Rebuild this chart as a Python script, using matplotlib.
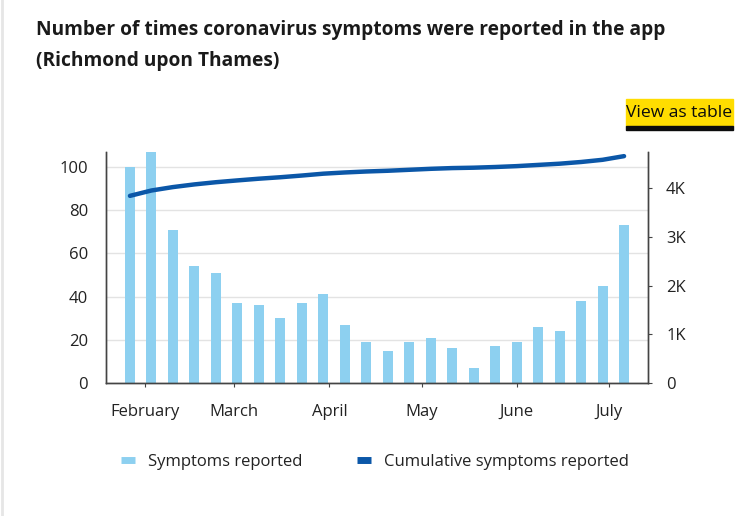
import matplotlib
matplotlib.use("Agg")
import matplotlib.pyplot as plt
import matplotlib.dates as mdates
from matplotlib.lines import Line2D
from matplotlib.patches import Rectangle
from matplotlib.ticker import FuncFormatter
import datetime as dt

plt.rcParams['font.family'] = ['Open Sans', 'DejaVu Sans']

# Weekly data, first week starting 27 Jan 2020
week_start = dt.date(2020, 1, 27)
weeks = [week_start + dt.timedelta(days=7 * i) for i in range(24)]
symptoms = [100, 107, 71, 54, 51, 37, 36, 30, 37, 41, 27, 19,
            15, 19, 21, 16, 7, 17, 19, 26, 24, 38, 45, 73]
cumulative = [3840, 3950, 4020, 4075, 4120, 4157, 4192, 4222, 4257, 4295, 4320, 4340,
              4355, 4375, 4395, 4410, 4418, 4432, 4450, 4475, 4500, 4535, 4580, 4655]
month_ticks = [dt.date(2020, m, 1) for m in range(2, 8)]
month_labels = ["February", "March", "April", "May", "June", "July"]

bar_col = "#8dd0f0"
line_col = "#0b57a8"
txt_col = "#222222"

fig = plt.figure(figsize=(7.5, 5.16), dpi=100)
ax = fig.add_axes([106 / 750, 1 - 383 / 516, 542 / 750, 231 / 516])
ax2 = ax.twinx()

x = mdates.date2num(weeks)
ax.bar(x, symptoms, width=3.3, color=bar_col, zorder=2)
ax2.plot(x, cumulative, color=line_col, lw=3.2, solid_capstyle='round', zorder=3)

ax.set_xlim(x[0] - 7.8, x[-1] + 7.8)
ax.set_ylim(0, 107)
ax2.set_ylim(0, 4740)
ax.set_yticks([0, 20, 40, 60, 80, 100])
ax2.set_yticks([0, 1000, 2000, 3000, 4000])
ax2.yaxis.set_major_formatter(FuncFormatter(lambda v, p: "0" if v == 0 else f"{v/1000:g}K"))
ax.set_xticks(mdates.date2num(month_ticks))
ax.set_xticklabels(month_labels)

ax.grid(axis='y', color="#e3e3e3", lw=1, zorder=0)
ax.set_axisbelow(True)
for a in (ax, ax2):
    a.spines['top'].set_visible(False)
    for s in ('left', 'right', 'bottom'):
        a.spines[s].set_color("#444444")
        a.spines[s].set_linewidth(1)
ax.tick_params(axis='y', length=0, pad=13, labelsize=12, labelcolor=txt_col)
ax.tick_params(axis='x', length=3, pad=12, labelsize=12, labelcolor=txt_col, color="#444444")
ax2.tick_params(axis='y', length=3, pad=10, labelsize=12, labelcolor=txt_col, color="#444444")

fig.text(36 / 750, 1 - 30 / 516, "Number of times coronavirus symptoms were reported in the app",
         fontsize=13.8, fontweight='bold', color="#1a1a1a", va='center', ha='left')
fig.text(36 / 750, 1 - 61 / 516, "(Richmond upon Thames)",
         fontsize=13.8, fontweight='bold', color="#1a1a1a", va='center', ha='left')

# "View as table" button
fig.patches.append(Rectangle((626 / 750, 1 - 126 / 516), 107 / 750, 27 / 516,
                             transform=fig.transFigure, color="#ffdd00", zorder=1))
fig.patches.append(Rectangle((626 / 750, 1 - 130 / 516), 107 / 750, 4 / 516,
                             transform=fig.transFigure, color="#0b0c0c", zorder=1))
fig.text(679.5 / 750, 1 - 113 / 516, "View as table", fontsize=12.6, color="#0b0c0c",
         ha='center', va='center', zorder=2)

# faint page edge
fig.add_artist(Line2D([1.5 / 750, 1.5 / 750], [0, 1], transform=fig.transFigure,
                      color="#e6e6e6", lw=2))

handles = [Line2D([], [], color=bar_col, lw=5, solid_capstyle='butt'),
           Line2D([], [], color=line_col, lw=5, solid_capstyle='butt')]
fig.legend(handles, ["Symptoms reported", "Cumulative symptoms reported"],
           loc='center', bbox_to_anchor=(375 / 750, 1 - 462 / 516), ncol=2,
           frameon=False, fontsize=12, handlelength=0.85, handletextpad=0.75,
           columnspacing=3.3, labelcolor=txt_col)

fig.savefig("out.png", dpi=100, facecolor="white")
